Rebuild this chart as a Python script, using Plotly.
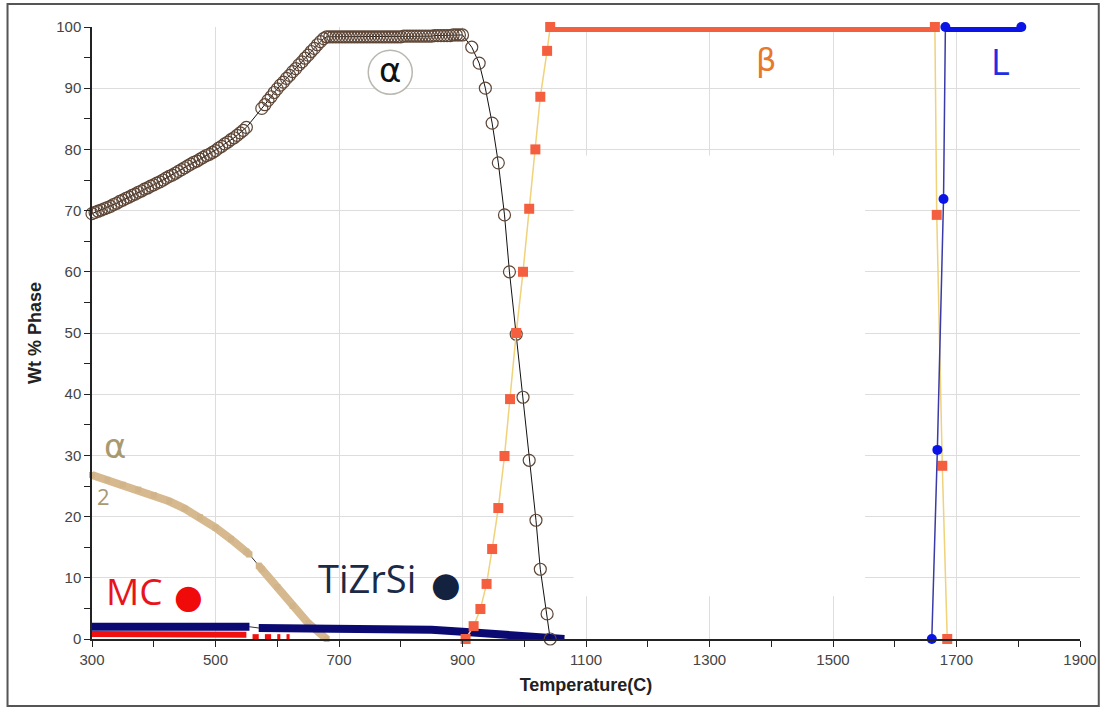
import plotly.graph_objects as go

# ---------------- data ----------------
alpha_x = [300, 305, 310, 315, 320, 325, 330, 335, 340, 345, 350, 355, 360, 365, 370, 375,
           380, 385, 390, 395, 400, 405, 410, 415, 420, 425, 430, 435, 440, 445, 450, 455,
           460, 465, 470, 475, 480, 485, 490, 495, 500, 505, 510, 515, 520, 525, 530, 535,
           540, 545, 550,
           575, 580, 585, 590, 595, 600, 605, 610, 615, 620, 625, 630, 635, 640, 645, 650,
           655, 660, 665, 670, 675, 680, 685, 690, 695, 700, 705, 710, 715, 720, 725, 730,
           735, 740, 745, 750, 755, 760, 765, 770, 775, 780, 785, 790, 795, 800, 805, 810,
           815, 820, 825, 830, 835, 840, 845, 850, 855, 860, 865, 870, 875, 880, 885, 890,
           895, 900,
           915, 927, 937, 948, 958, 968, 976, 987, 998, 1008, 1019, 1026, 1037, 1042]
alpha_y = [69.5, 69.7, 69.9, 70.1, 70.3, 70.5, 70.7, 71.0, 71.2, 71.5, 71.7, 72.0, 72.2, 72.5,
           72.7, 73.0, 73.2, 73.5, 73.7, 74.0, 74.2, 74.5, 74.7, 75.0, 75.3, 75.6, 75.8, 76.1,
           76.4, 76.7, 77.0, 77.3, 77.6, 77.9, 78.1, 78.4, 78.7, 79.0, 79.2, 79.5, 79.8, 80.2,
           80.5, 80.9, 81.2, 81.6, 81.9, 82.3, 82.7, 83.1, 83.6,
           86.7, 87.3, 88.0, 88.6, 89.3, 89.9, 90.5, 91.0, 91.6, 92.1, 92.7, 93.2, 93.8, 94.3,
           94.9, 95.4, 96.0, 96.5, 97.1, 97.6, 98.1, 98.4, 98.4, 98.4, 98.4, 98.4, 98.4, 98.4,
           98.4, 98.4, 98.4, 98.4, 98.4, 98.4, 98.4, 98.4, 98.4, 98.4, 98.4, 98.4, 98.4, 98.4,
           98.4, 98.4, 98.4, 98.4, 98.5, 98.5, 98.5, 98.5, 98.5, 98.5, 98.5, 98.5, 98.5, 98.5,
           98.6, 98.6, 98.6, 98.6, 98.6, 98.6, 98.7, 98.7, 98.7, 98.7,
           96.7, 94.1, 90.0, 84.3, 77.8, 69.3, 60.0, 49.8, 39.5, 29.2, 19.4, 11.4, 4.1, 0.0]

alpha2_x = [300, 325, 350, 375, 400, 425, 450, 475, 500, 525, 550, 555, None, 570, 575, 600, 625, 650, 680]
alpha2_y = [26.8, 26.0, 25.2, 24.4, 23.5, 22.5, 21.3, 19.9, 18.2, 16.3, 14.3, 13.8, None, 12.0, 11.4, 8.5, 5.4, 2.6, 0.0]

tizrsi_x = [300, 400, 500, 555, None, 570, 700, 800, 850, 900, 950, 1000, 1040, 1065]
tizrsi_y = [2.0, 2.0, 2.0, 2.0, None, 1.8, 1.8, 1.7, 1.5, 1.2, 0.9, 0.6, 0.3, 0.0]

mc_x = [300, 400, 500, 550, None, 560, 570, None, 580, 590, None, 600, 605, None, 615, 620]
mc_y = [0.8, 0.8, 0.8, 0.7, None, 0.3, 0.3, None, 0.3, 0.3, None, 0.3, 0.3, None, 0.3, 0.3]

beta_x = [905, 918, 929, 939, 948, 958, 968, 977, 987, 998, 1008, 1018, 1026, 1037, 1042,
          1665, 1668, 1677, 1685]
beta_y = [0.0, 2.1, 4.9, 9.0, 14.7, 21.4, 29.9, 39.2, 50.0, 60.0, 70.3, 80.0, 88.6, 96.1, 100,
          100, 69.3, 28.3, 0.0]

liq_x = [1660, 1669, 1679, 1682, 1805]
liq_y = [0.0, 30.9, 71.9, 100, 100]

x_ticks = [300, 500, 700, 900, 1100, 1300, 1500, 1700, 1900]
y_ticks = [0, 10, 20, 30, 40, 50, 60, 70, 80, 90, 100]

# ---------------- figure ----------------
fig = go.Figure()

# alpha2 thin connector + thick band
fig.add_trace(go.Scatter(x=[v for v in alpha2_x if v is not None],
                         y=[v for v in alpha2_y if v is not None],
                         mode="lines", line=dict(color="#333333", width=1),
                         cliponaxis=False, hoverinfo="skip"))
fig.add_trace(go.Scatter(x=alpha2_x, y=alpha2_y, mode="lines+markers",
                         line=dict(color="#D6B98E", width=8),
                         marker=dict(symbol="square", size=6, color="#D2B48A"),
                         cliponaxis=False, name="α2"))

# TiZrSi
fig.add_trace(go.Scatter(x=[v for v in tizrsi_x if v is not None],
                         y=[v for v in tizrsi_y if v is not None],
                         mode="lines", line=dict(color="#333333", width=1),
                         cliponaxis=False, hoverinfo="skip"))
fig.add_trace(go.Scatter(x=tizrsi_x, y=tizrsi_y, mode="lines",
                         line=dict(color="#0A0A72", width=8),
                         cliponaxis=False, name="TiZrSi"))

# MC
fig.add_trace(go.Scatter(x=mc_x, y=mc_y, mode="lines",
                         line=dict(color="#F01010", width=6),
                         cliponaxis=False, name="MC"))

# alpha
fig.add_trace(go.Scatter(x=alpha_x, y=alpha_y, mode="lines+markers",
                         line=dict(color="#111111", width=1),
                         marker=dict(symbol="circle-open", size=12, color="#5E4636",
                                     line=dict(width=1.2)),
                         cliponaxis=False, name="α"))

# beta
fig.add_trace(go.Scatter(x=beta_x, y=beta_y, mode="lines+markers",
                         line=dict(color="#EFD27A", width=1.5),
                         marker=dict(symbol="square", size=10, color="#F4603F"),
                         cliponaxis=False, name="β"))
beta_flat_x = [x for x, y in zip(beta_x, beta_y) if y >= 100]
beta_flat_y = [y for y in beta_y if y >= 100]
fig.add_trace(go.Scatter(x=beta_flat_x, y=beta_flat_y, mode="lines",
                         line=dict(color="#F4603F", width=10),
                         cliponaxis=False, hoverinfo="skip"))

# liquid
fig.add_trace(go.Scatter(x=liq_x, y=liq_y, mode="lines",
                         line=dict(color="#3A3AA8", width=1.5),
                         cliponaxis=False, hoverinfo="skip"))
liq_pts = [(x, y) for x, y in zip(liq_x, liq_y) if y < 100]
fig.add_trace(go.Scatter(x=[p[0] for p in liq_pts], y=[p[1] for p in liq_pts], mode="markers",
                         marker=dict(symbol="circle", size=10, color="#0A14E6"),
                         cliponaxis=False, name="L"))
liq_flat_x = [x for x, y in zip(liq_x, liq_y) if y >= 100]
liq_flat_y = [y for y in liq_y if y >= 100]
fig.add_trace(go.Scatter(x=liq_flat_x, y=liq_flat_y, mode="lines+markers",
                         line=dict(color="#0A14E6", width=10),
                         marker=dict(symbol="circle", size=10, color="#0A14E6"),
                         cliponaxis=False, hoverinfo="skip"))

# ---------------- decorations ----------------
shapes = [
    # white patch hiding gridlines (as in the reference image)
    dict(type="rect", xref="x", yref="y", x0=1080, x1=1552, y0=7, y1=79,
         fillcolor="white", line=dict(width=0), layer="between"),
    # frame around the whole picture
    dict(type="rect", xref="paper", yref="paper", x0=-0.0855, x1=1.019, y0=-0.1095, y1=1.0376,
         line=dict(color="#555555", width=2), fillcolor="rgba(0,0,0,0)", layer="above"),
    # circle around alpha label
    dict(type="circle", xref="x", yref="y", xsizemode="pixel", ysizemode="pixel",
         xanchor=783, yanchor=92.6, x0=-22, x1=22, y0=-22, y1=22,
         line=dict(color="#B8B8B0", width=1.5), fillcolor="white", layer="above"),
]

annotations = [
    dict(x=783, y=92.9, text="α", font=dict(size=34, color="#111111", family="DejaVu Sans")),
    dict(x=1391, y=94.6, text="β", font=dict(size=32, color="#E8782A", family="DejaVu Sans")),
    dict(x=1772, y=94.3, text="L", font=dict(size=36, color="#1E2EE0", family="Open Sans")),
    dict(x=337, y=31.6, text="α", font=dict(size=34, color="#A89A70", family="DejaVu Sans")),
    dict(x=319, y=23.4, text="2", font=dict(size=22, color="#A89A70", family="Open Sans")),
    dict(x=369, y=7.9, text="MC", font=dict(size=37, color="#E8141C", family="Open Sans")),
    dict(x=457, y=7.0, text="●", font=dict(size=33, color="#F00A0A", family="DejaVu Sans")),
    dict(x=746, y=10.0, text="TiZrSi", font=dict(size=38, color="#1B2A47", family="Open Sans")),
    dict(x=873, y=9.0, text="●", font=dict(size=34, color="#13233F", family="DejaVu Sans")),
]
for a in annotations:
    a.update(xref="x", yref="y", showarrow=False)

fig.update_layout(
    width=1109, height=710,
    margin=dict(l=92, r=23, t=27, b=71),
    paper_bgcolor="white", plot_bgcolor="white",
    showlegend=False,
    shapes=shapes, annotations=annotations,
    font=dict(family="Liberation Sans, Arial", color="#444444"),
)
fig.update_xaxes(
    range=[300, 1900], tickvals=x_ticks, ticktext=[str(v) for v in x_ticks],
    showgrid=True, gridcolor="#DDDDDD", gridwidth=1,
    showline=True, linecolor="#222222", linewidth=1.5,
    ticks="outside", ticklen=6, tickcolor="#222222",
    minor=dict(dtick=100, tick0=300, ticks="outside", ticklen=6, tickcolor="#222222", showgrid=False),
    tickfont=dict(size=15, color="#444444"),
    title=dict(text="<b>Temperature(C)</b>", font=dict(size=18, color="#222222"), standoff=12),
    zeroline=False,
)
fig.update_yaxes(
    range=[0, 100], tickvals=y_ticks, ticktext=[str(v) for v in y_ticks],
    showgrid=True, gridcolor="#DDDDDD", gridwidth=1,
    showline=True, linecolor="#222222", linewidth=1.5,
    ticks="outside", ticklen=6, tickcolor="#222222",
    minor=dict(dtick=5, tick0=0, ticks="outside", ticklen=6, tickcolor="#222222", showgrid=False),
    tickfont=dict(size=15, color="#444444"),
    title=dict(text="<b>Wt % Phase</b>", font=dict(size=18, color="#222222"), standoff=10),
    zeroline=False,
)

fig.write_html("out.html")
